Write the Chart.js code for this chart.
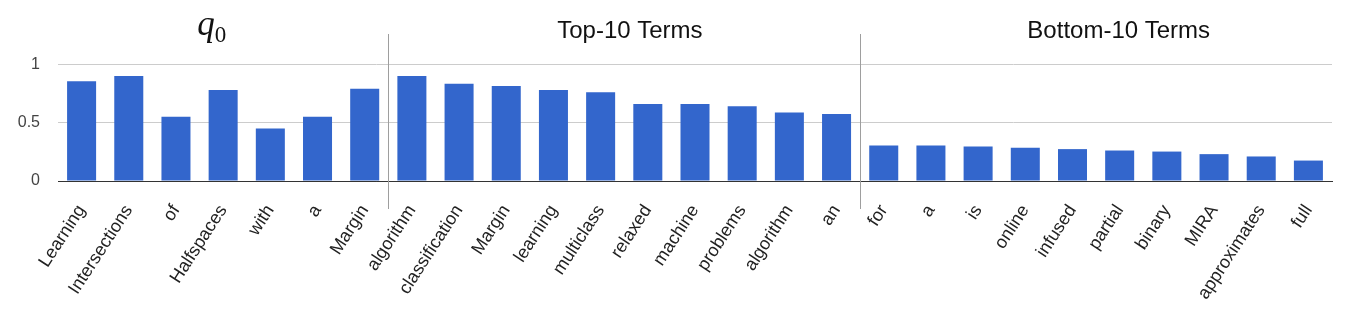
<!DOCTYPE html>
<html lang="en">
<head>
  <meta charset="UTF-8">
  <title>Term weights</title>
  <script src="https://cdn.jsdelivr.net/npm/chart.js"></script>
  <style>
    body { margin: 0; background: #fff; }
    #wrap { width: 1346px; height: 314px; }
  </style>
</head>
<body>
  <div id="wrap">
    <canvas id="chart" width="1346" height="314"></canvas>
  </div>

  <script>
    // Words of the query q0, then the 10 top terms and the 10 bottom terms
    const queryTerms = ["Learning", "Intersections", "of", "Halfspaces", "with", "a", "Margin"];
    const topTerms = ["algorithm", "classification", "Margin", "learning", "multiclass",
                      "relaxed", "machine", "problems", "algorithm", "an"];
    const bottomTerms = ["for", "a", "is", "online", "infused", "partial", "binary",
                         "MIRA", "approximates", "full"];

    const queryValues = [0.855, 0.90, 0.55, 0.78, 0.45, 0.55, 0.79];
    const topValues = [0.90, 0.833, 0.813, 0.78, 0.76, 0.66, 0.66, 0.64, 0.586, 0.574];
    const bottomValues = [0.304, 0.304, 0.296, 0.284, 0.273, 0.261, 0.252, 0.23, 0.21, 0.175];

    const yTicks = [0, 0.5, 1];

    const labels = [...queryTerms, ...topTerms, ...bottomTerms];
    const values = [...queryValues, ...topValues, ...bottomValues];

    // Separators between the groups and the group titles
    const groupPlugin = {
      id: "groups",
      afterDatasetsDraw(chart) {
        const ctx = chart.ctx;
        const x = chart.scales.x;
        const area = chart.chartArea;
        const cuts = [queryTerms.length - 0.5, queryTerms.length + topTerms.length - 0.5];

        ctx.save();
        ctx.strokeStyle = "#9e9e9e";
        ctx.lineWidth = 1;
        cuts.forEach(c => {
          const px = Math.round(x.getPixelForValue(c)) + 0.5;
          ctx.beginPath();
          ctx.moveTo(px, area.top - 1);
          ctx.lineTo(px, area.bottom + 28);
          ctx.stroke();
        });

        // titles
        ctx.fillStyle = "#111";
        ctx.textBaseline = "alphabetic";
        ctx.textAlign = "center";
        ctx.font = "24px 'Liberation Sans', Arial, sans-serif";
        ctx.fillText("Top-10 Terms", x.getPixelForValue(11.62), 38);
        ctx.fillText("Bottom-10 Terms", x.getPixelForValue(21.98), 38);

        // q0 in math style
        const qx = x.getPixelForValue(2.76);
        ctx.font = "italic 35px 'Liberation Serif', 'DejaVu Serif', serif";
        const qw = ctx.measureText("q").width;
        ctx.font = "23px 'Liberation Serif', 'DejaVu Serif', serif";
        const zw = ctx.measureText("0").width;
        const start = qx - (qw + zw) / 2;
        ctx.textAlign = "left";
        ctx.font = "italic 35px 'Liberation Serif', 'DejaVu Serif', serif";
        ctx.fillText("q", start, 35);
        ctx.font = "23px 'Liberation Serif', 'DejaVu Serif', serif";
        ctx.fillText("0", start + qw, 42);
        ctx.restore();
      }
    };

    new Chart(document.getElementById("chart"), {
      type: "bar",
      data: {
        labels: labels,
        datasets: [{
          data: values,
          backgroundColor: "#3366cc",
          borderWidth: 0,
          barPercentage: 0.615,
          categoryPercentage: 1
        }]
      },
      options: {
        responsive: false,
        animation: false,
        layout: { padding: { top: 35, right: 14, left: 0, bottom: 0 } },
        plugins: {
          legend: { display: false },
          tooltip: { enabled: false }
        },
        scales: {
          x: {
            grid: { display: false },
            border: { color: "#333", width: 1 },
            ticks: {
              autoSkip: false,
              minRotation: 57,
              maxRotation: 57,
              padding: 12,
              color: "#222",
              font: { family: "'Liberation Sans', Arial, sans-serif", size: 18 }
            },
            afterFit(scale) { scale.height = 133; }
          },
          y: {
            min: 0,
            max: 1.25,
            afterBuildTicks(scale) { scale.ticks = yTicks.map(v => ({ value: v })); },
            grid: {
              color: ctx => ctx.tick && ctx.tick.value === 0 ? "#333" : "#cccccc",
              drawTicks: false
            },
            border: { display: false },
            ticks: {
              padding: 18,
              color: "#444",
              callback: v => String(v),
              font: { family: "'Liberation Sans', Arial, sans-serif", size: 16 }
            },
            afterFit(scale) { scale.width = 58; }
          }
        }
      },
      plugins: [groupPlugin]
    });
  </script>
</body>
</html>
